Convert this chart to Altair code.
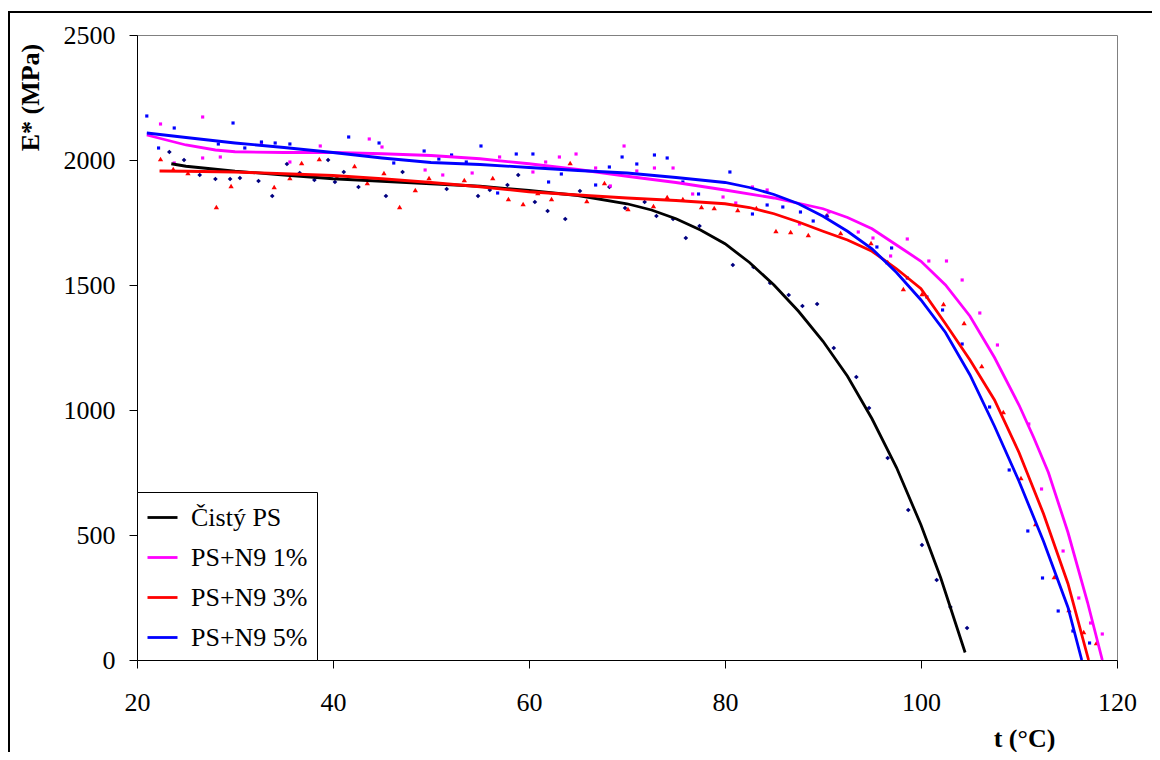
import altair as alt
import pandas as pd

series_names = ["Čistý PS", "PS+N9 1%", "PS+N9 3%", "PS+N9 5%"]
line_colors = ["#000000", "#FF00FF", "#FF0000", "#0000FF"]

# ---- smoothed curves ----
ps_line_t = [23.5, 25, 30, 35, 40, 45, 50, 55, 60, 65, 70, 72.5, 75, 77.5, 80, 82.5, 85, 87.5, 90, 92.5, 95, 97.5, 100, 102, 103.5, 104.5]
ps_line_e = [1985, 1975, 1955, 1940, 1925, 1915, 1905, 1895, 1878, 1858, 1825, 1800, 1765, 1720, 1665, 1590, 1500, 1395, 1275, 1135, 965, 770, 540, 330, 150, 30]

n1_line_t = [21, 23, 25, 28, 30, 35, 40, 45, 50, 55, 60, 65, 70, 75, 80, 85, 90, 92.5, 95, 97.5, 100, 102.5, 105, 107.5, 110, 111.5, 113, 115, 117, 118.5]
n1_line_e = [2100, 2080, 2060, 2040, 2033, 2030, 2030, 2025, 2018, 2005, 1985, 1962, 1935, 1910, 1880, 1848, 1805, 1770, 1725, 1660, 1595, 1500, 1375, 1210, 1020, 890, 750, 510, 230, 0]

n3_line_t = [22.3, 25, 30, 35, 40, 45, 50, 55, 60, 65, 70, 75, 80, 82.5, 85, 87.5, 90, 92.5, 95, 97.5, 100, 102.5, 105, 107.5, 110, 112.5, 115, 117.1]
n3_line_e = [1956, 1955, 1952, 1945, 1938, 1925, 1910, 1893, 1873, 1860, 1848, 1838, 1825, 1810, 1785, 1752, 1715, 1680, 1635, 1565, 1485, 1345, 1200, 1040, 830, 585, 305, 0]

n5_line_t = [21, 25, 30, 35, 40, 45, 50, 55, 60, 65, 70, 75, 80, 82.5, 85, 87.5, 90, 92.5, 95, 97.5, 100, 102.5, 105, 107.5, 110, 112.5, 115, 116.4]
n5_line_e = [2108, 2090, 2068, 2050, 2030, 2008, 1990, 1982, 1970, 1958, 1948, 1930, 1910, 1890, 1862, 1825, 1775, 1715, 1645, 1550, 1440, 1310, 1140, 935, 715, 475, 210, 0]

# ---- measured points ----
ps_pts_t = [23.3, 24.8, 26.4, 28.0, 29.5, 30.5, 32.4, 33.8, 35.3, 36.6, 38.1, 39.5, 40.2, 41.1, 42.6, 45.4, 47.1,
            51.6, 54.8, 56.0, 57.8, 58.9, 60.6, 61.9, 63.7, 65.2, 68.2, 69.8, 71.8, 73.0, 74.7, 76.0, 77.4,
            80.8, 82.9, 84.6, 86.5, 87.9, 89.4, 91.1, 93.4, 94.7, 96.6, 98.7, 100.1, 101.6, 103.0, 104.7]
ps_pts_e = [2032, 2000, 1940, 1924, 1924, 1928, 1916, 1856, 1984, 1948, 1920, 2000, 1912, 1952, 1892, 1856, 1952,
            1884, 1856, 1880, 1900, 1940, 1832, 1796, 1764, 1876, 1892, 1808, 1832, 1776, 1764, 1688, 1736,
            1580, 1572, 1508, 1460, 1416, 1424, 1248, 1132, 1008, 808, 600, 460, 320, 212, 128]

n1_pts_t = [22.4, 23.8, 26.7, 26.7, 28.5, 32.7, 35.6, 38.7, 43.7, 45.0, 49.4,
            51.2, 54.2, 57.0, 60.4, 61.7, 63.1, 64.8, 66.8, 68.3, 69.7, 71.0, 72.8, 74.7, 76.7, 79.8,
            81.1, 82.8, 84.3, 87.6, 90.6, 93.6, 95.1, 96.9, 98.6, 100.8, 102.6, 104.2,
            106.0, 107.8, 111.0, 112.3, 114.5, 116.1, 117.3, 118.5]
n1_pts_e = [2144, 1988, 2172, 2008, 2012, 2068, 1992, 2056, 2084, 2052, 1960,
            1940, 1948, 2012, 1952, 1992, 2012, 2024, 1968, 1896, 2056, 1956, 1968, 1968, 1864, 1852,
            1828, 1892, 1880, 1744, 1792, 1712, 1688, 1616, 1684, 1596, 1596, 1520,
            1388, 1260, 944, 684, 436, 248, 148, 104]

n3_pts_t = [22.4, 23.7, 25.2, 28.1, 29.6, 34.0, 35.6, 36.8, 38.6, 40.4, 42.2, 43.5, 45.2, 46.8, 48.4, 49.8,
            53.4, 56.3, 57.9, 59.4, 60.9, 62.3, 64.2, 65.9, 67.7, 70.1, 72.7, 74.1, 75.7, 77.6, 78.9,
            81.3, 83.2, 85.2, 86.7, 88.5, 90.4, 91.8, 94.9, 96.6, 98.2, 100.1, 102.3, 104.4,
            106.2, 108.4, 110.2, 111.7, 113.6, 115.1, 116.6, 117.9]
n3_pts_e = [2004, 1964, 1948, 1812, 1896, 1892, 1928, 1988, 2004, 1932, 1976, 1908, 1948, 1812, 1880, 1928,
            1920, 1928, 1844, 1824, 1868, 1844, 1988, 1836, 1908, 1804, 1816, 1852, 1844, 1812, 1808,
            1800, 1808, 1716, 1712, 1700, 1780, 1708, 1668, 1592, 1484, 1464, 1424, 1348,
            1176, 992, 728, 544, 332, 200, 112, 68]

n5_pts_t = [21.0, 22.2, 23.8, 28.3, 29.8, 31.0, 32.7, 34.1, 35.6, 41.6, 44.7, 46.2, 49.3,
            50.8, 52.1, 53.6, 55.1, 56.8, 58.7, 60.4, 62.0, 63.3, 66.8, 68.2, 69.5, 71.0, 72.8, 74.1, 75.7, 77.3, 80.5,
            82.8, 84.3, 85.9, 87.7, 89.0, 90.4, 95.5, 97.0, 98.6, 100.6, 102.2,
            104.2, 107.0, 109.0, 110.9, 112.4, 114.0, 115.5, 117.2]
n5_pts_e = [2176, 2048, 2128, 2064, 2148, 2048, 2072, 2068, 2064, 2092, 2068, 1988, 2036,
            2004, 2020, 1992, 2056, 1868, 2024, 2024, 1912, 1944, 1900, 1972, 2012, 1984, 2020, 2008, 1912, 1864, 1952,
            1784, 1820, 1812, 1792, 1756, 1776, 1652, 1648, 1528, 1452, 1400,
            1264, 1012, 760, 516, 328, 196, 116, 68]

line_sets = [(ps_line_t, ps_line_e), (n1_line_t, n1_line_e), (n3_line_t, n3_line_e), (n5_line_t, n5_line_e)]
rows = []
for name, (ts, es) in zip(series_names, line_sets):
    for i, (t, e) in enumerate(zip(ts, es)):
        rows.append({"t": t, "E": e, "series": name, "idx": i})
lines_df = pd.DataFrame(rows)

def pts(ts, es):
    return pd.DataFrame({"t": ts, "E": es})

FONT = "Liberation Serif"

xs = alt.Scale(domain=[20, 120], nice=False, zero=False)
ys = alt.Scale(domain=[0, 2500], nice=False)

x_axis = alt.Axis(values=[20, 40, 60, 80, 100, 120], format="d", title="t (°C)", grid=False,
                  tickSize=8, labelPadding=21, labelFontSize=26, labelFont=FONT, labelFlush=False,
                  labelOverlap=False,
                  titleFont=FONT, titleFontSize=26, titleFontWeight="bold",
                  titleX=887, titleY=86, titleAlign="center", titleBaseline="alphabetic",
                  domainColor="black", tickColor="black", labelColor="black", titleColor="black")
y_axis = alt.Axis(values=[0, 500, 1000, 1500, 2000, 2500], format="d", title="E* (MPa)", grid=False,
                  tickSize=8, labelPadding=14, labelFontSize=26, labelFont=FONT, labelFlush=False,
                  labelOverlap=False,
                  titleFont=FONT, titleFontSize=26, titleFontWeight="bold",
                  titleX=-107, titleY=62, titleAlign="center", titleBaseline="middle", titleAngle=270,
                  domainColor="black", tickColor="black", labelColor="black", titleColor="black")

def scatter(df, color, shape, size):
    return alt.Chart(df).mark_point(filled=True, shape=shape, size=size, color=color, opacity=1, strokeWidth=0).encode(
        x=alt.X("t:Q", scale=xs, axis=x_axis),
        y=alt.Y("E:Q", scale=ys, axis=y_axis),
    )

s_ps = scatter(pts(ps_pts_t, ps_pts_e), "#000080", "diamond", 22)
s_n1 = scatter(pts(n1_pts_t, n1_pts_e), "#FF00FF", "square", 10)
s_n3 = scatter(pts(n3_pts_t, n3_pts_e), "#FF0000", "triangle-up", 28)
s_n5 = scatter(pts(n5_pts_t, n5_pts_e), "#0000FF", "square", 10)

lines = alt.Chart(lines_df).mark_line(strokeWidth=2.8).encode(
    x=alt.X("t:Q", scale=xs, axis=x_axis),
    y=alt.Y("E:Q", scale=ys, axis=y_axis),
    color=alt.Color("series:N", scale=alt.Scale(domain=series_names, range=line_colors),
                    sort=series_names,
                    legend=alt.Legend(title=None, orient="bottom-left", offset=0,
                                      symbolType="stroke", symbolSize=900, symbolStrokeWidth=2.8,
                                      labelFont=FONT, labelFontSize=26, labelColor="black",
                                      labelOffset=12, rowPadding=10, padding=9,
                                      strokeColor="black", fillColor="white", labelLimit=300)),
    order="idx:Q",
)

frame = alt.Chart(pd.DataFrame({"a": [0]})).mark_rect(filled=False, stroke="black", strokeWidth=2).encode(
    x=alt.value(-128), x2=alt.value(1200), y=alt.value(-23), y2=alt.value(900)
)

chart = alt.layer(s_ps, s_n1, s_n3, s_n5, lines, frame).properties(
    width=980, height=625,
    autosize=alt.AutoSizeParams(type="none"),
    padding={"left": 129, "top": 27, "right": 35, "bottom": 92},
    background="white",
).configure_view(
    stroke="#808080", strokeWidth=1
).configure_axis(
    labelFont=FONT, titleFont=FONT, labelFontSize=26, titleFontSize=26
).configure_legend(
    labelFont=FONT, labelFontSize=26
)

chart.save("out.html", embed_options={"renderer": "svg", "actions": False})
